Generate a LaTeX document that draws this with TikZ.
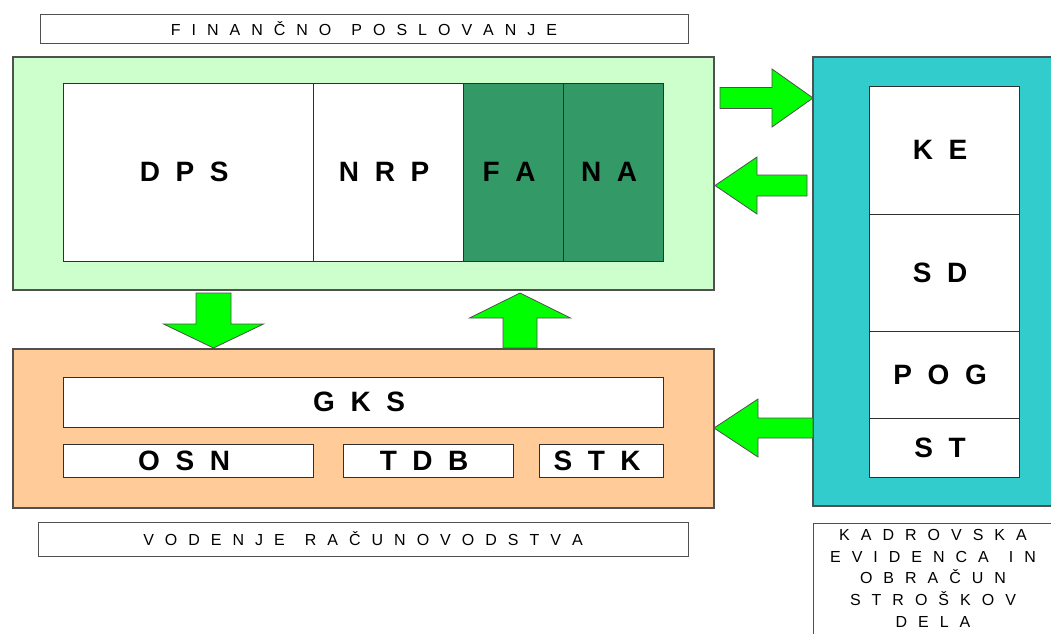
\documentclass[tikz,border=0pt]{standalone}
\usepackage{fontspec}
\setmainfont{Liberation Sans}
\usetikzlibrary{calc}
\definecolor{lgreen}{HTML}{CCFFCC}
\definecolor{dgreen}{HTML}{339966}
\definecolor{cyanbox}{HTML}{33CCCC}
\definecolor{peach}{HTML}{FFCC99}
\definecolor{arrowgreen}{HTML}{00FF00}
\definecolor{edge}{HTML}{505050}
\definecolor{inedge}{HTML}{303030}

\newlength\lgap \newlength\wgap
\setlength\lgap{11pt}\setlength\wgap{9pt}
\def\spreadit#1{\ifx#1\relax\let\nextspread\relax\else\ifx#1~\hskip\wgap\else#1\hskip\lgap\fi\let\nextspread\spreadit\fi\nextspread}
\newcommand\spaced[1]{\spreadit#1\relax\unskip}

% style, name, x1, y1, x2, y2, text
\newcommand\blockat[7]{\node[#1, minimum width={(#5)-(#3)}, minimum height={(#6)-(#4)}] (#2) at (#3,#4) {#7};}
% horizontal block arrow: tail x, head base x, tip x, centre y, shaft half, head half
\newcommand\harrow[6]{\filldraw[blockarrow] (#1,{#4-#5}) -- (#2,{#4-#5}) -- (#2,{#4-#6}) -- (#3,#4) -- (#2,{#4+#6}) -- (#2,{#4+#5}) -- (#1,{#4+#5}) -- cycle;}
% vertical block arrow: tail y, head base y, tip y, centre x, shaft half, head half
\newcommand\varrow[6]{\filldraw[blockarrow] ({#4-#5},#1) -- ({#4-#5},#2) -- ({#4-#6},#2) -- (#4,#3) -- ({#4+#6},#2) -- ({#4+#5},#2) -- ({#4+#5},#1) -- cycle;}

\tikzset{
  outerbox/.style={draw=edge, line width=1.3pt, inner sep=0pt, outer sep=0pt, anchor=north west},
  cell/.style={draw=inedge, line width=1pt, fill=white, inner sep=0pt, outer sep=0pt, anchor=north west,
    font=\fontsize{28}{30}\selectfont\bfseries},
  darkcell/.style={cell, fill=dgreen},
  lblbox/.style={draw=edge, line width=1pt, fill=white, inner sep=0pt, outer sep=0pt, anchor=north west,
    font=\fontsize{16}{18}\selectfont},
  blockarrow/.style={fill=arrowgreen, draw=edge, line width=0.8pt, line join=miter},
}

\begin{document}
\begin{tikzpicture}[x=1pt, y=-1pt]
\fill[white] (0,0) rectangle (1051,633);
\useasboundingbox (0,0) rectangle (1051,633);

% title boxes
\blockat{lblbox}{finlbl}{40}{14}{688}{43}{\spaced{FINANČNO~POSLOVANJE}}
\blockat{lblbox}{raclbl}{38}{522}{688}{556}{\spaced{VODENJE~RAČUNOVODSTVA}}
\blockat{lblbox}{kadrlbl}{813}{523}{1053}{660}{}
\node[anchor=north, align=center, inner sep=0pt, font=\fontsize{16}{21.7}\selectfont] (kadrtxt) at (933,529)
  {\spaced{KADROVSKA}\\ \spaced{EVIDENCA~IN}\\ \spaced{OBRAČUN}\\ \spaced{STROŠKOV}\\ \spaced{DELA}};

% financno poslovanje
\blockat{outerbox, fill=lgreen}{fin}{13}{57}{714}{290}{}
\blockat{cell}{dps}{63}{83}{313}{261}{D~~P~~S~~}
\blockat{cell}{nrp}{313}{83}{463}{261}{N~~R~~P~~}
\blockat{darkcell}{fa}{463}{83}{563}{261}{F~~A~~}
\blockat{darkcell}{na}{563}{83}{663}{261}{N~~A~~}

% kadrovska evidenca
\blockat{outerbox, fill=cyanbox}{kadr}{813}{57}{1053}{506}{}
\blockat{cell}{ke}{869}{86}{1019}{214}{K~~E~~}
\blockat{cell}{sd}{869}{214}{1019}{331}{S~~D~~}
\blockat{cell}{pog}{869}{331}{1019}{418}{P~~O~~G~~}
\blockat{cell}{st}{869}{418}{1019}{477}{S~~T~~}

% racunovodstvo
\blockat{outerbox, fill=peach}{rac}{13}{349}{714}{508}{}
\blockat{cell}{gks}{63}{377}{663}{427}{G~~K~~S~~}
\blockat{cell}{osn}{63}{444}{313}{477}{O~~S~~N~~}
\blockat{cell}{tdb}{343}{444}{513}{477}{T~~D~~B~~}
\blockat{cell}{stk}{539}{444}{663}{477}{S~~T~~K~~}

% block arrows
\harrow{720}{772}{813}{98}{10.5}{29}
\harrow{807}{757}{715}{185.5}{10.5}{28.5}
\harrow{813}{758}{714}{428}{10}{29}
\varrow{293}{324}{348}{213.5}{17.5}{50}
\varrow{348}{318}{293}{520}{17}{50.5}
\end{tikzpicture}
\end{document}
